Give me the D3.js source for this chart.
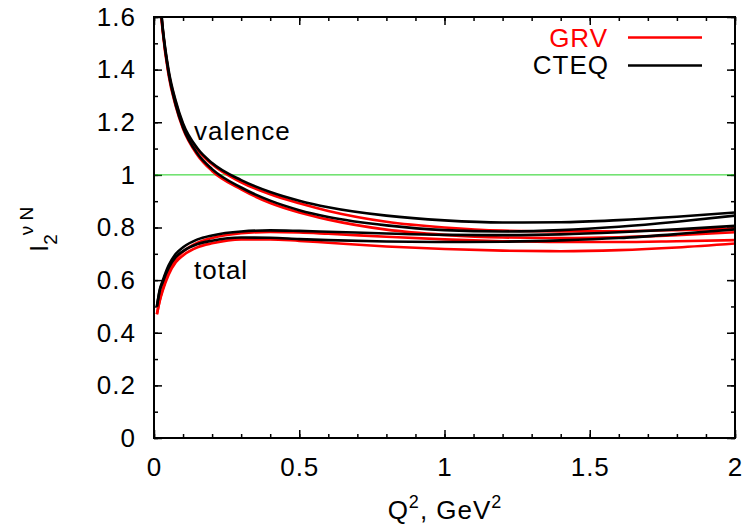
<!DOCTYPE html>
<html>
<head>
<meta charset="utf-8">
<script src="https://cdn.jsdelivr.net/npm/d3@7"></script>
<style>
  body{margin:0;background:#fff}
  text{font-family:"Liberation Sans",Arial,Helvetica,sans-serif;fill:#000}
</style>
</head>
<body>
<svg id="board" width="746" height="526"></svg>
<script>
// Q^2 grid (GeV^2)
var q2Valence = [0.02,0.03,0.05,0.075,0.1,0.15,0.2,0.3,0.4,0.5,0.6,0.8,1.0,1.2,1.4,1.6,1.8,2.0]
var q2Total   = [0.01,0.02,0.03,0.05,0.075,0.1,0.15,0.2,0.3,0.4,0.5,0.6,0.8,1.0,1.2,1.4,1.6,1.8,2.0]

// valence curves
var cteqValA = [1.68,1.56,1.40,1.28,1.195,1.10,1.045,0.980,0.935,0.902,0.877,0.845,0.827,0.819,0.820,0.828,0.841,0.857]
var cteqValB = [1.68,1.555,1.39,1.265,1.18,1.08,1.022,0.952,0.902,0.866,0.840,0.808,0.790,0.785,0.790,0.803,0.822,0.845]
var grvValA  = [1.67,1.55,1.39,1.275,1.19,1.095,1.040,0.972,0.926,0.892,0.863,0.822,0.800,0.788,0.785,0.786,0.790,0.795]
var grvValB  = [1.67,1.545,1.38,1.26,1.175,1.075,1.015,0.945,0.893,0.857,0.830,0.792,0.772,0.762,0.760,0.763,0.771,0.782]

// total curves
var cteqTotA = [0.50,0.565,0.598,0.655,0.700,0.725,0.755,0.770,0.785,0.789,0.787,0.784,0.777,0.772,0.771,0.774,0.782,0.793,0.806]
var cteqTotB = [0.50,0.560,0.592,0.645,0.688,0.710,0.737,0.750,0.762,0.761,0.756,0.752,0.747,0.745,0.746,0.751,0.760,0.775,0.793]
var grvTotA  = [0.47,0.525,0.565,0.630,0.680,0.708,0.742,0.760,0.778,0.783,0.781,0.776,0.765,0.755,0.748,0.745,0.745,0.748,0.752]
var grvTotB  = [0.47,0.522,0.560,0.620,0.668,0.694,0.725,0.740,0.755,0.755,0.749,0.742,0.728,0.718,0.712,0.710,0.714,0.724,0.739]

var xTicks = [0,0.5,1,1.5,2]
var xTickLabels = ["0","0.5","1","1.5","2"]
var yTicks = [0,0.2,0.4,0.6,0.8,1,1.2,1.4,1.6]
var yTickLabels = ["0","0.2","0.4","0.6","0.8","1","1.2","1.4","1.6"]

var pLeft=154, pRight=735, pTop=17, pBottom=438
var svg = d3.select("#board")

var x = d3.scaleLinear().domain([0,2]).range([pLeft,pRight])
var y = d3.scaleLinear().domain([0,1.6]).range([pBottom,pTop])

var minorX = d3.range(0,2.0001,0.1)
var minorY = d3.range(0,1.6001,0.1)

svg.append("clipPath").attr("id","clip").append("rect")
  .attr("x",pLeft).attr("y",pTop).attr("width",pRight-pLeft).attr("height",pBottom-pTop)

// minor ticks on all four sides, major ones mirrored on top/right
function ticksOnly(axis, vals, size){
  return axis.tickValues(vals).tickSize(-size).tickFormat("")
}
svg.append("g").attr("transform","translate(0,"+pBottom+")").call(ticksOnly(d3.axisBottom(x),minorX,4))
svg.append("g").attr("transform","translate(0,"+pTop+")").call(ticksOnly(d3.axisTop(x),minorX,4))
svg.append("g").attr("transform","translate("+pLeft+",0)").call(ticksOnly(d3.axisLeft(y),minorY,4))
svg.append("g").attr("transform","translate("+pRight+",0)").call(ticksOnly(d3.axisRight(y),minorY,4))
svg.append("g").attr("transform","translate(0,"+pTop+")").call(ticksOnly(d3.axisTop(x),xTicks,8))
svg.append("g").attr("transform","translate("+pRight+",0)").call(ticksOnly(d3.axisRight(y),yTicks,8))

var xAxis = svg.append("g").attr("class","xaxis").attr("transform","translate(0,"+pBottom+")")
  .call(d3.axisBottom(x).tickValues(xTicks).tickSize(-8).tickPadding(20)
    .tickFormat(function(d,i){return xTickLabels[i]}))
var yAxis = svg.append("g").attr("class","yaxis").attr("transform","translate("+pLeft+",0)")
  .call(d3.axisLeft(y).tickValues(yTicks).tickSize(-8).tickPadding(18)
    .tickFormat(function(d,i){return yTickLabels[i]}))

svg.selectAll(".domain").remove()
svg.selectAll(".tick line").attr("stroke","#000").attr("stroke-width",1.5)
svg.selectAll(".xaxis text,.yaxis text").attr("font-size",26).style("letter-spacing","1px")
  .attr("font-family",'"Liberation Sans",Arial,sans-serif').attr("fill","#000")

// reference line at 1
svg.append("line").attr("x1",pLeft).attr("x2",pRight).attr("y1",y(1)).attr("y2",y(1))
  .attr("stroke","#1fd11f").attr("stroke-width",1)

var line = d3.line().curve(d3.curveMonotoneX)
  .x(function(d){return x(d[0])}).y(function(d){return y(d[1])})
function pairs(qs, vs){ return qs.map(function(q,i){return [q,vs[i]]}) }

var curves = svg.append("g").attr("clip-path","url(#clip)")
var redOnes = [[q2Valence,grvValA],[q2Valence,grvValB],[q2Total,grvTotA],[q2Total,grvTotB]]
var blackOnes = [[q2Valence,cteqValA],[q2Valence,cteqValB],[q2Total,cteqTotA],[q2Total,cteqTotB]]
redOnes.forEach(function(c){
  curves.append("path").attr("d",line(pairs(c[0],c[1]))).attr("fill","none")
    .attr("stroke","#ff0000").attr("stroke-width",2.6)
})
blackOnes.forEach(function(c){
  curves.append("path").attr("d",line(pairs(c[0],c[1]))).attr("fill","none")
    .attr("stroke","#000").attr("stroke-width",2.6)
})

// frame
svg.append("rect").attr("x",pLeft).attr("y",pTop).attr("width",pRight-pLeft).attr("height",pBottom-pTop)
  .attr("fill","none").attr("stroke","#000").attr("stroke-width",2)

// curve labels
svg.append("text").attr("x",194).attr("y",140).attr("font-size",26).style("letter-spacing","1px").text("valence")
svg.append("text").attr("x",194).attr("y",279).attr("font-size",26).style("letter-spacing","1px").text("total")

// legend
svg.append("text").attr("x",608).attr("y",47).attr("text-anchor","end").attr("font-size",26)
  .style("letter-spacing","1px").style("fill","#ff0000").text("GRV")
svg.append("line").attr("x1",628).attr("x2",702).attr("y1",37.5).attr("y2",37.5).attr("stroke","#ff0000").attr("stroke-width",2.6)
svg.append("text").attr("x",609).attr("y",74).attr("text-anchor","end").attr("font-size",26)
  .style("letter-spacing","1px").text("CTEQ")
svg.append("line").attr("x1",628).attr("x2",702).attr("y1",65.5).attr("y2",65.5).attr("stroke","#000").attr("stroke-width",2.6)

// axis titles
var xt = svg.append("text").attr("x",445).attr("y",519).attr("text-anchor","middle").attr("font-size",26).style("letter-spacing","1px")
xt.append("tspan").text("Q")
xt.append("tspan").attr("dy",-11).attr("font-size",18).text("2")
xt.append("tspan").attr("dy",11).text(", GeV")
xt.append("tspan").attr("dy",-11).attr("font-size",18).text("2")

var yt = svg.append("text").attr("transform","translate(48,252) rotate(-90)").attr("font-size",26)
yt.append("tspan").text("I")
yt.append("tspan").attr("dy",9).attr("font-size",19).text("2")
yt.append("tspan").attr("dy",-24).attr("dx",-1).attr("font-size",19).text("\u03bd N")
</script>
</body>
</html>
